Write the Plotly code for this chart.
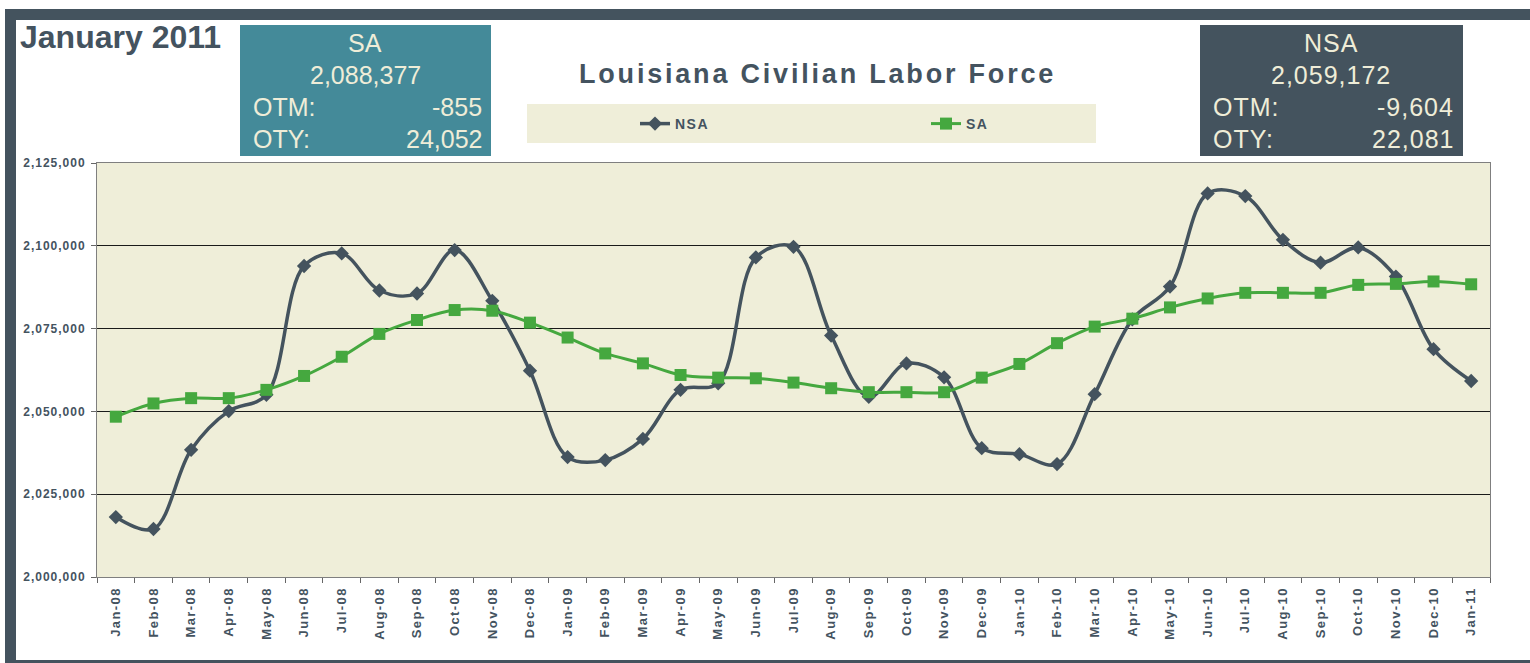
import plotly.graph_objects as go

# ---------------- data ----------------
months = ["Jan-08", "Feb-08", "Mar-08", "Apr-08", "May-08", "Jun-08", "Jul-08", "Aug-08",
          "Sep-08", "Oct-08", "Nov-08", "Dec-08", "Jan-09", "Feb-09", "Mar-09", "Apr-09",
          "May-09", "Jun-09", "Jul-09", "Aug-09", "Sep-09", "Oct-09", "Nov-09", "Dec-09",
          "Jan-10", "Feb-10", "Mar-10", "Apr-10", "May-10", "Jun-10", "Jul-10", "Aug-10",
          "Sep-10", "Oct-10", "Nov-10", "Dec-10", "Jan-11"]

nsa = [2018100, 2014500, 2038400, 2050100, 2055000, 2093900, 2097700, 2086500,
       2085600, 2098700, 2083400, 2062300, 2036200, 2035300, 2041700, 2056500,
       2058500, 2096500, 2099700, 2072900, 2054400, 2064500, 2060300, 2038900,
       2037091, 2034100, 2055200, 2077800, 2087700, 2115800, 2115000, 2101800,
       2094900, 2099500, 2090700, 2068776, 2059172]

sa = [2048400, 2052400, 2054000, 2054000, 2056500, 2060700, 2066500, 2073400,
      2077600, 2080600, 2080400, 2076800, 2072300, 2067500, 2064500, 2061000,
      2060200, 2060000, 2058700, 2057000, 2055800, 2055800, 2055800, 2060200,
      2064325, 2070600, 2075600, 2078000, 2081400, 2084100, 2085800, 2085800,
      2085800, 2088200, 2088500, 2089232, 2088377]

y_tick_vals = [2000000, 2025000, 2050000, 2075000, 2100000, 2125000]
y_tick_labels = ["2,000,000", "2,025,000", "2,050,000", "2,075,000", "2,100,000", "2,125,000"]

header_title = "January 2011"
chart_title = "Louisiana Civilian Labor Force"
sa_box = {"name": "SA", "value": "2,088,377", "otm": "-855", "oty": "24,052"}
nsa_box = {"name": "NSA", "value": "2,059,172", "otm": "-9,604", "oty": "22,081"}

# ---------------- styling ----------------
W, H = 1530, 663
PL, PR, PT, PB = 97, 1490, 163, 577
SLATE = "#44535e"
TEAL = "#448a99"
GREEN = "#45a83f"
CREAM = "#efedd8"
PLOTBG = "#efeed9"
TXT = "#44535f"
FONT = "Liberation Sans, Arial, sans-serif"


def px(x):
    return (x - PL) / (PR - PL)


def py(y):
    return (PB - y) / (PB - PT)


def spaced(t, s):
    return '<span style="letter-spacing:%spx">%s</span>' % (s, t)


fig = go.Figure()
fig.add_trace(go.Scatter(
    x=months, y=nsa, name=spaced("<b>NSA</b>", 1.5), mode="lines+markers",
    line=dict(color=SLATE, width=3.5, shape="spline", smoothing=1.0),
    marker=dict(symbol="diamond", size=11, color=SLATE),
    legend="legend"))
fig.add_trace(go.Scatter(
    x=months, y=sa, name=spaced("<b>SA</b>", 1.5), mode="lines+markers",
    line=dict(color=GREEN, width=3, shape="spline", smoothing=1.0),
    marker=dict(symbol="square", size=12, color=GREEN),
    legend="legend2"))

shapes = []
# outer frame
shapes.append(dict(type="rect", xref="paper", yref="paper", x0=px(5), x1=px(1530), y0=py(9), y1=py(20),
                   fillcolor=SLATE, line=dict(width=0)))
shapes.append(dict(type="rect", xref="paper", yref="paper", x0=px(5), x1=px(16), y0=py(9), y1=py(663),
                   fillcolor=SLATE, line=dict(width=0)))
shapes.append(dict(type="rect", xref="paper", yref="paper", x0=px(5), x1=px(1530), y0=py(660), y1=py(663),
                   fillcolor=SLATE, line=dict(width=0)))
# boxes
shapes.append(dict(type="rect", xref="paper", yref="paper", x0=px(240), x1=px(491), y0=py(25), y1=py(156),
                   fillcolor=TEAL, line=dict(width=0)))
shapes.append(dict(type="rect", xref="paper", yref="paper", x0=px(1200), x1=px(1463), y0=py(25), y1=py(156),
                   fillcolor=SLATE, line=dict(width=0)))
# legend background
shapes.append(dict(type="rect", xref="paper", yref="paper", x0=px(527), x1=px(1096), y0=py(104), y1=py(143),
                   fillcolor=PLOTBG, line=dict(width=0)))

ann = []
ann.append(dict(text="<b>%s</b>" % header_title, x=px(18), y=py(37), xref="paper", yref="paper",
                xanchor="left", yanchor="middle", showarrow=False,
                font=dict(family=FONT, size=32, color=TXT)))
ann.append(dict(text=spaced("<b>%s</b>" % chart_title, 2.8), x=px(817), y=py(74), xref="paper", yref="paper",
                xanchor="center", yanchor="middle", showarrow=False,
                font=dict(family=FONT, size=27, color=TXT)))


def box_text(b, cx, xl, xr, sp):
    f = dict(family=FONT, size=25, color=CREAM)
    out = []
    out.append(dict(text=spaced(b["name"], sp), x=px(cx), y=py(43), xanchor="center"))
    out.append(dict(text=spaced(b["value"], sp), x=px(cx), y=py(75), xanchor="center"))
    out.append(dict(text=spaced("OTM:", sp), x=px(xl), y=py(107), xanchor="left"))
    out.append(dict(text=spaced(b["otm"], sp), x=px(xr), y=py(107), xanchor="right"))
    out.append(dict(text=spaced("OTY:", sp), x=px(xl), y=py(139), xanchor="left"))
    out.append(dict(text=spaced(b["oty"], sp), x=px(xr), y=py(139), xanchor="right"))
    for o in out:
        o.update(xref="paper", yref="paper", yanchor="middle", showarrow=False, font=f)
    return out


ann += box_text(sa_box, 365, 251, 484, 0)
ann += box_text(nsa_box, 1331, 1211, 1456, 1)

fig.update_layout(
    width=W, height=H,
    margin=dict(l=PL, r=W - PR, t=PT, b=H - PB, pad=0),
    paper_bgcolor="white", plot_bgcolor=PLOTBG,
    shapes=shapes, annotations=ann,
    legend=dict(orientation="h", x=px(635), y=py(124), xanchor="left", yanchor="middle",
                bgcolor="rgba(0,0,0,0)", borderwidth=0,
                font=dict(family=FONT, size=14, color=TXT)),
    legend2=dict(orientation="h", x=px(926), y=py(124), xanchor="left", yanchor="middle",
                 bgcolor="rgba(0,0,0,0)", borderwidth=0,
                 font=dict(family=FONT, size=14, color=TXT)),
    showlegend=True,
)

fig.update_xaxes(
    type="category", tickson="boundaries", ticks="outside", ticklen=5, tickcolor="#666666",
    tickangle=-90, showgrid=False, showline=True, linecolor="#7f7f7f", linewidth=1, mirror=True,
    tickfont=dict(family=FONT, size=13, color=TXT), ticklabelstandoff=4,
    tickvals=months, ticktext=[spaced("<b>%s</b>" % m, 1.4) for m in months],
    range=[-0.5, len(months) - 0.5],
)
fig.update_yaxes(
    range=[2000000, 2125000], tickvals=y_tick_vals,
    ticktext=[spaced("<b>%s</b>" % t, 1) for t in y_tick_labels],
    ticks="outside", ticklen=5, tickcolor="#666666", ticklabelstandoff=3,
    showgrid=True, gridcolor="#1a1a1a", gridwidth=1, zeroline=False,
    showline=True, linecolor="#7f7f7f", linewidth=1, mirror=True,
    tickfont=dict(family=FONT, size=12, color=TXT),
)

fig.write_html("out.html", config={"displayModeBar": False},
               post_script="document.body.style.margin='0';document.body.style.overflow='hidden';")
